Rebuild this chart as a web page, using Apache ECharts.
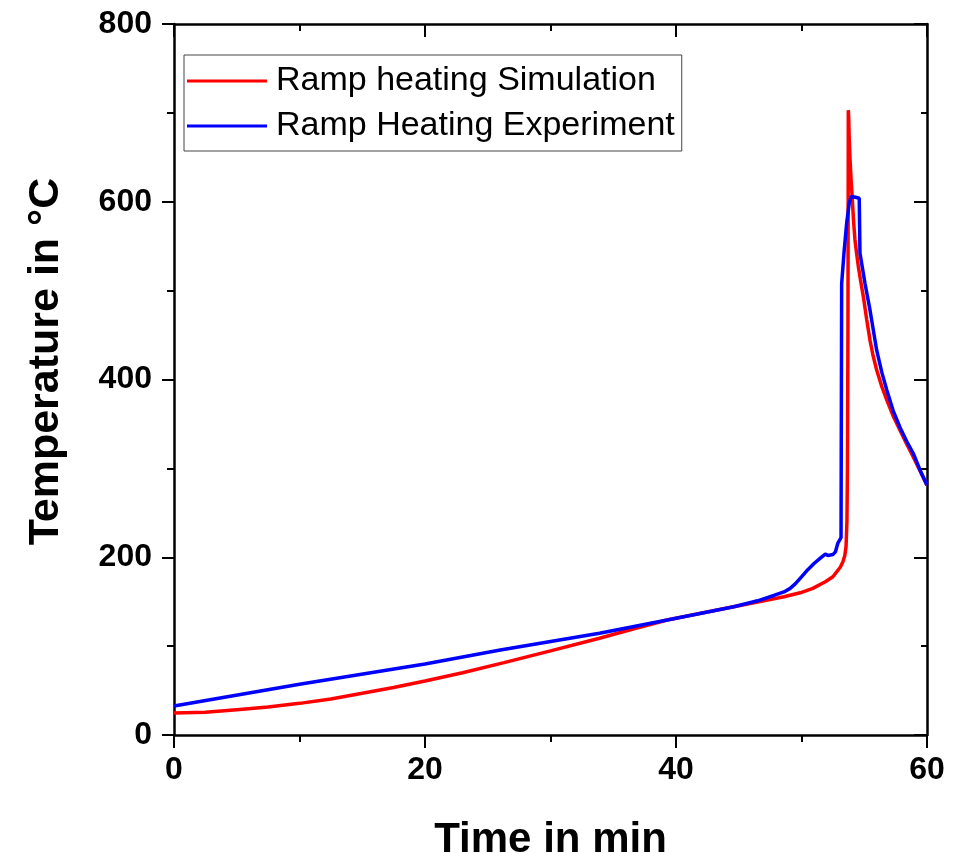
<!DOCTYPE html>
<html>
<head>
<meta charset="utf-8">
<title>Ramp heating</title>
<script src="https://cdn.jsdelivr.net/npm/echarts@6/dist/echarts.min.js"></script>
<style>
  html, body { margin: 0; padding: 0; background: #fff; }
  #chart { width: 960px; height: 853px; }
</style>
</head>
<body>
<div id="chart"></div>
<script>
// time in min / temperature in °C
const simTime = [0, 2.5, 5, 7.5, 10, 12.5, 15, 17.5, 20, 23, 26.3, 30, 33.9, 36.5, 39.3, 42, 44.6, 46.5, 48.6, 49.9, 50.9, 51.9,
  52.5, 53.1, 53.3, 53.45, 53.55, 53.62, 53.66, 53.7, 53.73,
  53.76, 53.8, 53.86, 53.95, 54.05, 54.15, 54.26, 54.4, 54.53, 54.7, 54.93, 55.2, 55.46, 55.7, 55.99, 56.4, 56.79, 57.3,
  57.85, 58.4, 58.9, 59.45, 60];
const simTemp = [24.7, 25.5, 28.5, 31.5, 35.6, 40.5, 47, 53.5, 60.7, 70, 81.4, 94.7, 108.8, 119, 129.4, 137, 144.3, 149.5, 155.6, 160, 165, 172.5,
  178, 189, 195, 202, 212, 240, 300, 450, 703,
  695, 672, 650, 625, 602, 578, 557, 541, 527, 512, 493, 467, 444, 427, 410.6, 392, 377, 359,
  343, 327, 313, 297, 281];

const expTime = [0, 10, 20, 26, 33.9, 39.3, 44.6, 46.5, 47.8, 48.6, 49.1, 49.5, 50, 50.5, 51, 51.5, 51.9, 52.1, 52.5, 52.7, 52.9,
  53.15, 53.2, 53.4, 53.6, 53.8, 53.95, 54.1, 54.3, 54.6,
  54.66, 55.06, 55.46, 55.99, 56.4, 56.8, 57.3, 57.85, 58.4, 58.9, 59.45, 60];
const expTemp = [32.6, 57, 79.9, 95.6, 114.4, 129.4, 144.3, 151, 157, 161, 165, 170, 178, 186, 193, 199, 203.6, 202, 203, 206, 216,
  222, 508, 545, 576, 598, 606, 607, 605, 604,
  542, 508, 478, 433, 408, 388, 365, 346, 330, 317, 298, 281];

const seriesNames = ['Ramp heating Simulation', 'Ramp Heating Experiment'];
const xTicks = [0, 60, 20];   // min, max, interval
const yTicks = [0, 800, 200];

const zip = (a, b) => a.map((v, i) => [v, b[i]]);

const chart = echarts.init(document.getElementById('chart'));

const font = 'Liberation Sans, Arial, sans-serif';
const axisLine = { show: true, onZero: false, lineStyle: { color: '#000', width: 2.5 } };
const tickLabel = { color: '#000', fontSize: 32, fontWeight: 'bold', fontFamily: font };

const option = {
  backgroundColor: '#fff',
  animation: false,
  grid: { left: 174, right: 33, top: 24, bottom: 118, containLabel: false, outerBoundsMode: 'none' },
  legend: {
    orient: 'vertical',
    left: 184,
    top: 55,
    padding: [6, 7, 5, 3],
    itemGap: 5,
    itemWidth: 80,
    itemHeight: 3,
    icon: 'rect',
    borderColor: '#444',
    borderWidth: 1,
    data: seriesNames,
    textStyle: {
      color: '#000', fontSize: 34, lineHeight: 40, fontFamily: font,
      padding: [0, 0, 0, 4]
    }
  },
  xAxis: [
    {
      type: 'value', min: xTicks[0], max: xTicks[1], interval: xTicks[2],
      position: 'bottom',
      name: 'Time in min', nameLocation: 'middle', nameGap: 84,
      nameTextStyle: { color: '#000', fontSize: 42, fontWeight: 'bold', fontFamily: font },
      axisLine: axisLine,
      axisTick: { show: true, inside: false, length: 13, lineStyle: { color: '#000', width: 2 } },
      minorTick: { show: true, splitNumber: 2, length: 7, lineStyle: { color: '#000', width: 2 } },
      axisLabel: Object.assign({ margin: 19 }, tickLabel),
      splitLine: { show: false }
    },
    {
      type: 'value', min: xTicks[0], max: xTicks[1], interval: xTicks[2],
      position: 'top',
      axisLine: axisLine,
      axisTick: { show: true, inside: true, length: 13, lineStyle: { color: '#000', width: 2 } },
      minorTick: { show: true, splitNumber: 2, length: 7, lineStyle: { color: '#000', width: 2 } },
      axisLabel: { show: false },
      splitLine: { show: false }
    }
  ],
  yAxis: [
    {
      type: 'value', min: yTicks[0], max: yTicks[1], interval: yTicks[2],
      position: 'left',
      name: 'Temperature in °C', nameLocation: 'middle', nameGap: 106, nameRotate: 90,
      // padding nudges the title a little above the plot centre, as in the original
      nameTextStyle: { color: '#000', fontSize: 43, fontWeight: 'bold', fontFamily: font, padding: [0, 0, 0, 36] },
      axisLine: axisLine,
      axisTick: { show: true, inside: false, length: 12, lineStyle: { color: '#000', width: 2 } },
      minorTick: { show: true, splitNumber: 2, length: 7, lineStyle: { color: '#000', width: 2 } },
      axisLabel: Object.assign({ margin: 22 }, tickLabel),
      splitLine: { show: false }
    },
    {
      type: 'value', min: yTicks[0], max: yTicks[1], interval: yTicks[2],
      position: 'right',
      axisLine: axisLine,
      axisTick: { show: true, inside: true, length: 13, lineStyle: { color: '#000', width: 2 } },
      minorTick: { show: true, splitNumber: 2, length: 6, lineStyle: { color: '#000', width: 2 } },
      axisLabel: { show: false },
      splitLine: { show: false }
    }
  ],
  series: [
    {
      name: seriesNames[0],
      type: 'line',
      xAxisIndex: 0, yAxisIndex: 0,
      data: zip(simTime, simTemp),
      showSymbol: false, symbol: 'none',
      lineStyle: { color: '#ff0000', width: 3.5 },
      itemStyle: { color: '#ff0000' },
      z: 2
    },
    {
      name: seriesNames[1],
      type: 'line',
      xAxisIndex: 0, yAxisIndex: 0,
      data: zip(expTime, expTemp),
      showSymbol: false, symbol: 'none',
      lineStyle: { color: '#0000ff', width: 3.5 },
      itemStyle: { color: '#0000ff' },
      z: 3
    }
  ]
};

chart.setOption(option);
</script>
</body>
</html>
